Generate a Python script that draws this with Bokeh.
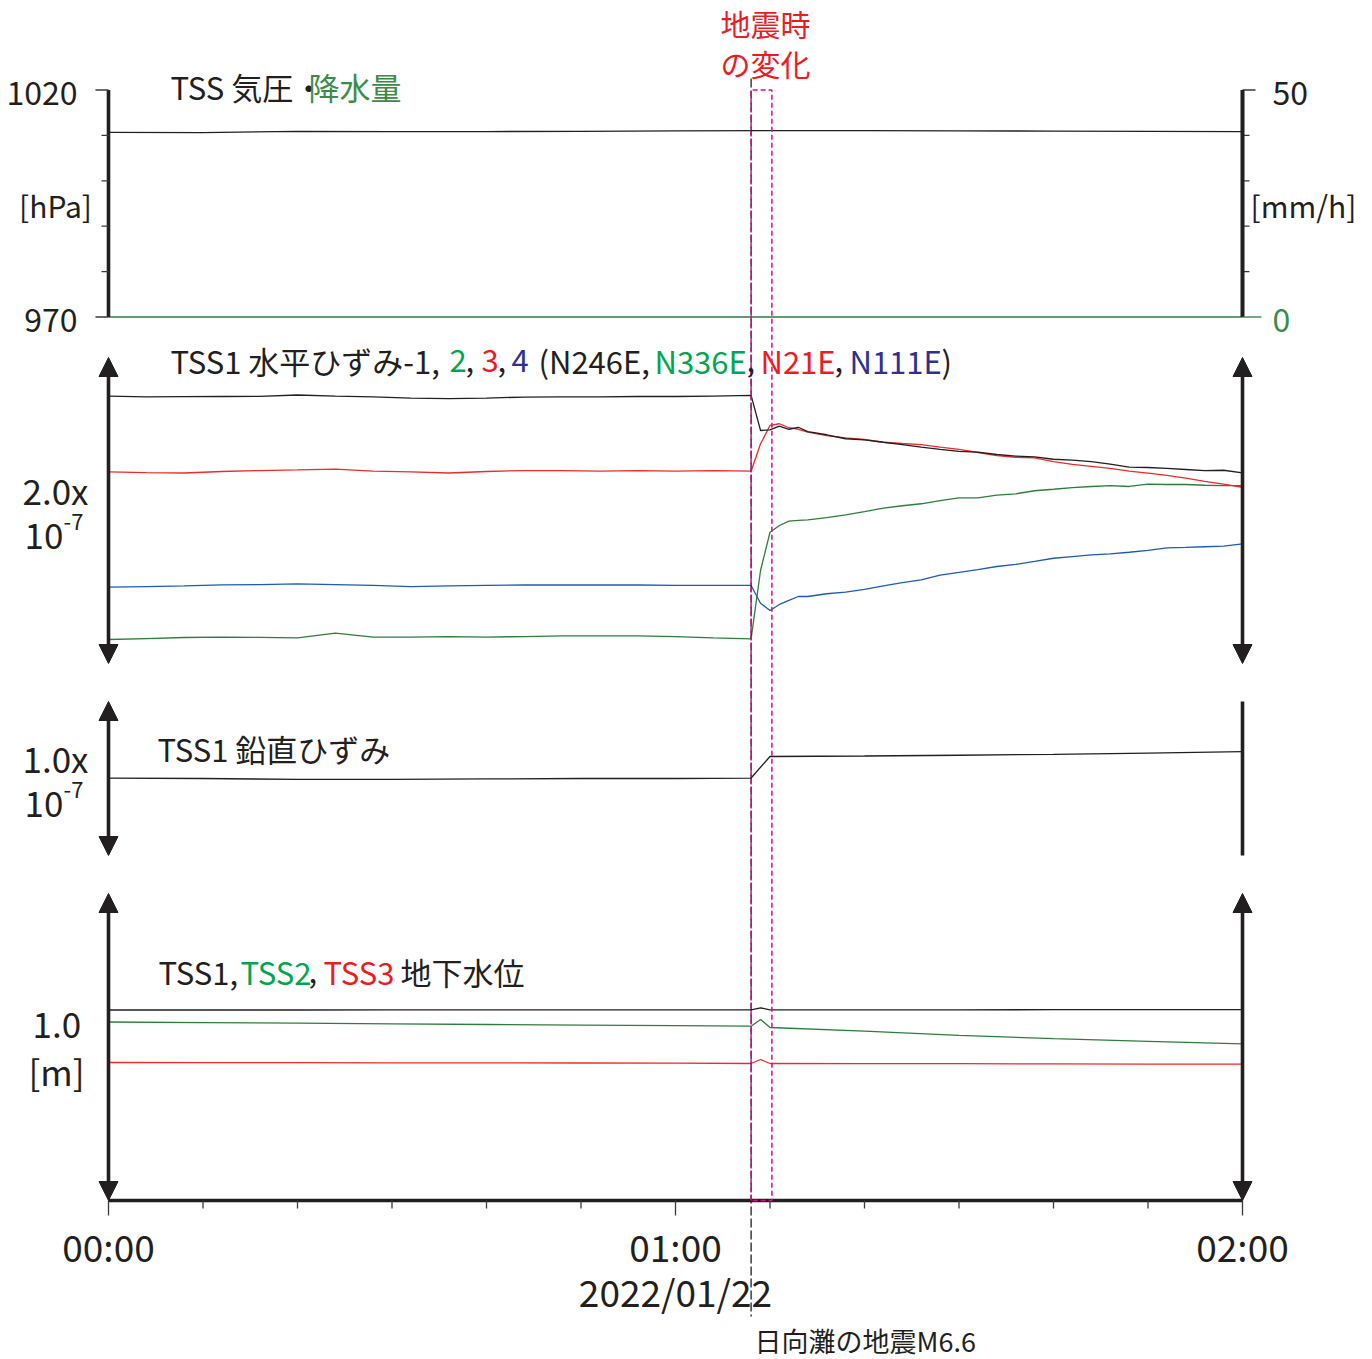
from bokeh.plotting import figure
from bokeh.models import Range1d, Arrow, NormalHead
from bokeh.core.properties import value
from bokeh.embed import file_html
from bokeh.resources import INLINE

# ---------------------------------------------------------------------------
# Data: minutes after 2022/01/22 00:00 (JST)
# ---------------------------------------------------------------------------
T_START, T_END = 0, 120
EQ_TIME = 68.0                      # 日向灘の地震 M6.6 (01:08)
CHANGE_WINDOW = (68.0, 70.2)        # 地震時の変化
time_ticks = [0, 60, 120]
time_labels = ["00:00", "01:00", "02:00"]
date_label = "2022/01/22"

# meteorology (TSS)
t_met = [0, 10, 20, 30, 40, 50, 60, 70, 80, 90, 100, 110, 120]
pressure_hpa = [1010.65, 1010.60, 1010.90, 1010.85, 1010.85, 1010.90, 1011.00,
                1011.05, 1011.05, 1011.00, 1010.95, 1010.90, 1010.85]
rain_mm_h = [0, 0, 0, 0, 0, 0, 0, 0, 0, 0, 0, 0, 0]
pressure_ticks = [970, 1020]
pressure_minor = [980, 990, 1000, 1010]
rain_ticks = [0, 50]
rain_minor = [10, 20, 30, 40]

# TSS1 horizontal strain, 4 components (nanostrain, offset per channel)
t_strain = [0, 4, 8, 12, 16, 20, 24, 28, 32, 36, 40, 44, 48, 52, 56, 60, 64, 68,
            69, 70, 71, 72, 73, 74,
            76, 78, 80, 82, 84, 86, 88, 90, 92, 94, 96, 98, 100, 102, 104, 106,
            108, 110, 112, 114, 116, 118, 120]
hstrain_1 = [174.7, 174.2, 174.4, 174.5, 174.6, 175.5, 174.8, 174.2, 173.5, 173.1,
             173.5, 174.1, 174.2, 174.2, 174.5, 174.5, 174.8, 175.2,
             152.3, 152.7, 155.1, 153.1, 154.4, 151.6,
             149.5, 146.9, 146.2, 144.6, 143.1, 141.4, 139.9, 138.6, 138.1, 136.6,
             135.5, 135.1, 133.5, 132.9, 132.0, 130.3, 128.3, 128.1, 127.5, 126.8,
             126.1, 126.3, 124.6]
hstrain_2 = [15.7, 16.3, 17.0, 17.3, 17.1, 16.7, 19.8, 17.2, 17.3, 17.6,
             17.3, 17.6, 18.0, 18.0, 18.1, 17.6, 16.7, 16.1,
             60.8, 85.8, 90.2, 93.0, 93.5, 93.9,
             95.4, 97.2, 99.3, 101.5, 103.1, 104.4, 106.5, 108.3, 108.3, 110.0,
             110.9, 112.9, 113.9, 115.0, 115.7, 116.3, 115.7, 117.2, 117.0, 117.0,
             116.5, 116.3, 116.3]
hstrain_3 = [125.2, 124.8, 124.5, 125.5, 126.1, 126.5, 127.1, 125.8, 125.2, 124.5,
             125.5, 126.1, 126.1, 125.8, 126.1, 125.8, 126.1, 125.7,
             143.6, 155.6, 156.7, 154.1, 153.1, 151.2,
             149.0, 147.5, 146.4, 144.6, 143.8, 143.1, 141.4, 139.9, 137.9, 135.9,
             134.8, 134.4, 132.0, 130.1, 128.8, 127.5, 125.7, 124.4, 122.9, 121.1,
             119.0, 117.2, 115.2]
hstrain_4 = [49.9, 50.3, 50.7, 51.4, 51.6, 52.0, 51.6, 51.0, 50.3, 50.7,
             51.0, 51.3, 51.3, 51.3, 51.3, 51.0, 51.0, 51.0,
             39.4, 34.6, 38.6, 41.2, 43.8, 43.8,
             45.6, 46.7, 48.4, 50.7, 52.9, 54.7, 57.8, 59.5, 61.4, 63.4,
             64.8, 66.7, 68.8, 69.9, 71.0, 71.7, 72.7, 74.0, 75.6, 75.9,
             76.3, 76.7, 78.2]
HSTRAIN_SCALE = 200                 # 2.0x10^-7

# TSS1 vertical strain (nanostrain)
t_vert = [0, 10, 20, 30, 40, 50, 60, 68, 70, 80, 90, 100, 110, 120]
vstrain = [50.3, 50.0, 49.4, 49.4, 49.7, 50.0, 50.0, 50.3, 64.3, 64.6, 65.1,
           65.7, 66.5, 67.5]
VSTRAIN_SCALE = 100                 # 1.0x10^-7

# groundwater level (m, offset per well)
t_water = [0, 10, 20, 30, 40, 50, 60, 68, 69, 70, 80, 90, 100, 110, 120]
water_tss1 = [0.6205, 0.6205, 0.6205, 0.6208, 0.6208, 0.6210, 0.6210, 0.6212,
              0.6277, 0.6212, 0.6212, 0.6212, 0.6215, 0.6215, 0.6215]
water_tss2 = [0.5814, 0.5795, 0.5775, 0.5756, 0.5733, 0.5713, 0.5694, 0.5678,
              0.5896, 0.5635, 0.5518, 0.5381, 0.5274, 0.5182, 0.5104]
water_tss3 = [0.4495, 0.4492, 0.4489, 0.4485, 0.4482, 0.4479, 0.4476, 0.4463,
              0.4593, 0.4463, 0.4460, 0.4456, 0.4450, 0.4445, 0.4440]
WATER_SCALE = 1.0                   # 1.0 m

# ---------------------------------------------------------------------------
# Page geometry and styles
# ---------------------------------------------------------------------------
W, H = 1372, 1359
X0_PX, X1_PX = 108, 1242            # 00:00 and 02:00
PPM = (X1_PX - X0_PX) / (T_END - T_START)
FONT = "Noto Sans CJK JP"

BLACK = "#231f20"
TICK = "#3a3a3a"
RED = "#ed1c24"
RED_LINE = "#ee2a2a"
GREEN_TXT = "#00a651"
GREEN_DARK = "#3b8c47"
GREEN_LINE = "#2f7d3c"
NAVY_TXT = "#2e3192"
BLUE_LINE = "#1e5abe"
MAGENTA = "#ec008c"
DATA_W = 1.3
AXIS_W = 3.6
TITLE_SIZE = 31


def band(v_a, py_a, v_b, py_b):
    """Range whose values v_a, v_b land on page rows py_a, py_b."""
    s = (py_a - py_b) / (v_b - v_a)
    start = v_a - (H - py_a) / s
    return Range1d(start=start, end=start + H / s)


p = figure(width=W, height=H, min_border=0, toolbar_location=None,
           output_backend="svg", x_axis_type=None, y_axis_type=None,
           x_range=Range1d(-X0_PX / PPM, (W - X0_PX) / PPM),
           y_range=Range1d(H, 0), outline_line_color=None,
           background_fill_color="white", border_fill_color="white")
p.extra_x_ranges = {"px": Range1d(0, W)}
p.extra_y_ranges = {
    "press": band(970, 316.5, 1020, 89.5),
    "rain": band(0, 316.5, 50, 89.5),
    "hs": band(0, 663, HSTRAIN_SCALE, 357),
    "vs": band(0, 855, VSTRAIN_SCALE, 701),
    "wl": band(0, 1200, WATER_SCALE, 893),
}


def vaxis(xm, lo, hi, rng, major, minor, side, major_len=13, minor_len=7,
          major_color=TICK):
    p.segment(x0=[xm], y0=[lo], x1=[xm], y1=[hi], y_range_name=rng,
              line_width=AXIS_W, line_color=BLACK)
    sgn = -1 if side == "left" else 1
    p.segment(x0=[xm] * len(minor), y0=minor,
              x1=[xm + sgn * minor_len / PPM] * len(minor), y1=minor,
              y_range_name=rng, line_width=1.3, line_color=TICK)
    p.segment(x0=[xm] * len(major), y0=major,
              x1=[xm + sgn * major_len / PPM] * len(major), y1=major,
              y_range_name=rng, line_width=1.3, line_color=major_color)


def scale_bar(xm, span, rng, heads=True):
    if heads:
        p.add_layout(Arrow(x_start=xm, y_start=0, x_end=xm, y_end=span,
                           y_range_name=rng, line_width=AXIS_W,
                           line_color=BLACK,
                           start=NormalHead(size=19, fill_color=BLACK,
                                            line_color=BLACK, line_width=1),
                           end=NormalHead(size=19, fill_color=BLACK,
                                          line_color=BLACK, line_width=1)))
    else:
        p.segment(x0=[xm], y0=[0], x1=[xm], y1=[span], y_range_name=rng,
                  line_width=AXIS_W, line_color=BLACK)


def label(x, y, s, size, color=BLACK, align="left"):
    p.text(x=[x], y=[y], text=[s], x_range_name="px",
           text_font=value(FONT), text_font_size=f"{size}px",
           text_color=color, text_align=align, text_baseline="middle")


# --- panel 1: pressure / rainfall -----------------------------------------
p.line(t_met, rain_mm_h, y_range_name="rain", line_color=GREEN_LINE,
       line_width=1.5)
p.line(t_met, pressure_hpa, y_range_name="press", line_color=BLACK,
       line_width=DATA_W)
vaxis(T_START, 970, 1020, "press", pressure_ticks, pressure_minor, "left")
vaxis(T_END, 0, 50, "rain", [50], rain_minor, "right")
vaxis(T_END, 0, 50, "rain", [0], [], "right", major_len=19,
      major_color=GREEN_LINE)

# --- panel 2: horizontal strain --------------------------------------------
for ys, col in ((hstrain_4, BLUE_LINE), (hstrain_2, GREEN_LINE),
                (hstrain_3, RED_LINE), (hstrain_1, BLACK)):
    p.line(t_strain, ys, y_range_name="hs", line_color=col, line_width=DATA_W)
scale_bar(T_START, HSTRAIN_SCALE, "hs")
scale_bar(T_END, HSTRAIN_SCALE, "hs")

# --- panel 3: vertical strain ----------------------------------------------
p.line(t_vert, vstrain, y_range_name="vs", line_color=BLACK, line_width=DATA_W)
scale_bar(T_START, VSTRAIN_SCALE, "vs")
scale_bar(T_END, VSTRAIN_SCALE, "vs", heads=False)

# --- panel 4: groundwater ----------------------------------------------------
for ys, col in ((water_tss3, RED_LINE), (water_tss2, GREEN_LINE),
                (water_tss1, BLACK)):
    p.line(t_water, ys, y_range_name="wl", line_color=col, line_width=DATA_W)
scale_bar(T_START, WATER_SCALE, "wl")
scale_bar(T_END, WATER_SCALE, "wl")

# --- time axis ----------------------------------------------------------------
AXIS_ROW = 1200
p.segment(x0=[T_START], y0=[AXIS_ROW], x1=[T_END], y1=[AXIS_ROW],
          line_width=AXIS_W, line_color=BLACK)
minor_t = [t for t in range(T_START, T_END + 1, 10) if t not in time_ticks]
p.segment(x0=minor_t, y0=[AXIS_ROW] * len(minor_t), x1=minor_t,
          y1=[AXIS_ROW + 8] * len(minor_t), line_width=1.3, line_color=TICK)
p.segment(x0=time_ticks, y0=[AXIS_ROW] * 3, x1=time_ticks,
          y1=[AXIS_ROW + 15] * 3, line_width=1.3, line_color=TICK)

# --- earthquake marker and change window ------------------------------------
p.segment(x0=[EQ_TIME], y0=[78], x1=[EQ_TIME], y1=[1316], line_dash="9 3",
          line_width=1.3, line_color=BLACK)
w0, w1 = CHANGE_WINDOW
p.line(x=[w0, w0, w1, w1, w0], y=[AXIS_ROW, 89.5, 89.5, AXIS_ROW, AXIS_ROW],
       line_dash="5 3", line_width=1.5, line_color=MAGENTA)

# --- texts -------------------------------------------------------------------
label(765, 22, "地震時", 30, RED, "center")
label(765, 62, "の変化", 30, RED, "center")

label(77, 92, "1020", 32, align="right")
label(55, 204, "[hPa]", 30, align="center")
label(77, 319, "970", 32, align="right")
label(1272, 92, "50", 32)
label(1250, 204, "[mm/h]", 30)
label(1272, 319, "0", 32, GREEN_DARK)
label(170, 86, "TSS 気圧・", TITLE_SIZE)
label(308, 86, "降水量", TITLE_SIZE, GREEN_DARK)

for x, s, c in ((170, "TSS1 水平ひずみ-1,", BLACK), (449, "2", GREEN_TXT),
                (465, ",", BLACK), (481, "3", RED), (497, ",", BLACK),
                (511, "4", NAVY_TXT),
                (538, "(N246E,", BLACK), (654, "N336E", GREEN_TXT),
                (746, ",", BLACK), (760, "N21E", RED), (834, ",", BLACK),
                (849, "N111E", NAVY_TXT), (941, ")", BLACK)):
    label(x, 360, s, TITLE_SIZE, c)
label(22, 489, "2.0x", 35)
label(24, 535, "10", 35)
label(63, 521, "-7", 22)

label(157, 748, "TSS1 鉛直ひずみ", TITLE_SIZE)
label(22, 757, "1.0x", 35)
label(24, 803, "10", 35)
label(63, 789, "-7", 22)

for x, s, c in ((158, "TSS1,", BLACK), (240, "TSS2", GREEN_TXT),
                (308, ",", BLACK), (323, "TSS3", RED), (400, "地下水位", BLACK)):
    label(x, 971, s, TITLE_SIZE, c)
label(32, 1024, "1.0", 35)
label(28, 1070, "[m]", 35)

for t, s in zip(time_ticks, time_labels):
    label(X0_PX + (t - T_START) * PPM, 1245, s, 37, align="center")
label(X0_PX + (60 - T_START) * PPM, 1290, date_label, 37, align="center")
label(754, 1340, "日向灘の地震M6.6", 27)

open("out.html", "w", encoding="utf-8").write(file_html(p, INLINE))
